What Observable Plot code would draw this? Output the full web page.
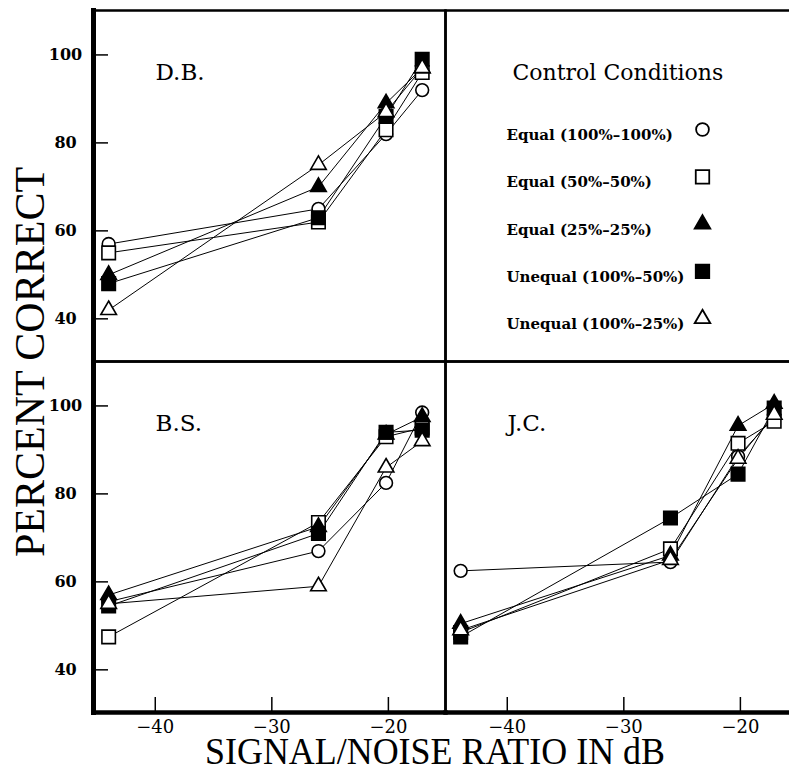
<!DOCTYPE html>
<html>
<head>
<meta charset="utf-8">
<script src="https://cdn.jsdelivr.net/npm/d3@7"></script>
<script src="https://cdn.jsdelivr.net/npm/@observablehq/plot@0.6"></script>
<style>
html, body { margin: 0; padding: 0; overflow: hidden; background: #fff; }
#chart svg { max-width: none !important; display: block; }
</style>
</head>
<body>
<div id="chart"></div>
<script>
// Signal/noise ratios (dB) at which each condition was tested
const snr = [-44, -26, -20.2, -17.1];

// Subjects and where their panel sits
const subjects = ["D.B.", "B.S.", "J.C."];
const subjectCol = ["L", "L", "R"];
const subjectRow = ["T", "B", "B"];

// Control conditions (legend)
const conditions = [
  "Equal (100%–100%)",
  "Equal (50%–50%)",
  "Equal (25%–25%)",
  "Unequal (100%–50%)",
  "Unequal (100%–25%)"
];
const condSymbols = ["circle", "square", "triangle", "square", "triangle"];
const condFills = ["white", "white", "black", "black", "white"];

// Percent correct, one row per condition (same order as conditions), columns follow snr
const pcDB = [
  [57, 65, 82, 92],
  [55, 62, 83, 96],
  [50, 70, 89, 97],
  [48, 63, 86, 99],
  [42, 75, 87, 97]
];
const pcBS = [
  [55.5, 67, 82.5, 98.5],
  [47.5, 73.5, 93, 95],
  [57, 72.5, 93.5, 97.5],
  [54.5, 71, 94, 94.5],
  [55, 59, 86, 92]
];
const pcJC = [
  [62.5, 64.5, 88.5, 97.5],
  [48.5, 67.5, 91.5, 96.5],
  [50.5, 66, 95.5, 100.5],
  [47.5, 74.5, 84.5, 99.5],
  [49, 65, 88, 98]
];

// Axis ticks
const xTicks = [-40, -30, -20];
const yTicks = [40, 60, 80, 100];

// Scale domains
const xDomain = [-45.3, -15.1];
const yDomain = [30.3, 110.1];

const pcBySubject = [pcDB, pcBS, pcJC];
const rows = subjects.flatMap((s, si) =>
  pcBySubject[si].flatMap((vals, ci) =>
    vals.map((v, k) => ({subject: s, col: subjectCol[si], row: subjectRow[si], ci, snr: snr[k], pc: v}))
  )
);
const panels = subjects.map((s, si) => ({subject: s, col: subjectCol[si], row: subjectRow[si]}));

const serif = "'DejaVu Serif', serif";
const radii = {circle: 6.4, square: 7.6, triangle: 5.8};
const W = 797, H = 772, ML = 93, MR = 0, MT = 10, MB = 60;
const facetW = (W - ML - MR) / 2, facetH = (H - MT - MB) / 2, tickLen = 15;
// inward tick length expressed in scale units
const xTickUnits = tickLen * (xDomain[1] - xDomain[0]) / facetW;
const yTickUnits = tickLen * (yDomain[1] - yDomain[0]) / facetH;

// inward tick marks: y ticks on the left column, x ticks on the bottom row
const yTickRows = ["T", "B"].flatMap(r => yTicks.map(t => ({t, col: "L", row: r})));
const xTickRows = ["L", "R"].flatMap(c => xTicks.map(t => ({t, col: c, row: "B"})));

const legendMarks = conditions.flatMap((c, i) => [
  Plot.text([c], {
    fx: () => "R", fy: () => "T", text: d => d,
    frameAnchor: "top-left", dx: 61, dy: 119 + i * 47.3,
    textAnchor: "start", fontFamily: serif, fontWeight: "bold", fontSize: 15, letterSpacing: 0.3, fill: "black"
  }),
  Plot.dot([c], {
    fx: () => "R", fy: () => "T",
    frameAnchor: "top-left", dx: 257, dy: 119 + i * 47.3,
    symbol: condSymbols[i], r: radii[condSymbols[i]],
    fill: condFills[i], stroke: "black", strokeWidth: 1.8
  })
]);

const dotMarks = conditions.map((c, i) =>
  Plot.dot(rows.filter(d => d.ci === i), {
    x: "snr", y: "pc", fx: "col", fy: "row",
    symbol: condSymbols[i], r: radii[condSymbols[i]],
    fill: condFills[i], stroke: "black", strokeWidth: 1.6
  })
);

const chart = Plot.plot({
  width: W,
  height: H,
  marginLeft: ML,
  marginRight: MR,
  marginTop: MT,
  marginBottom: MB,
  style: {background: "white", color: "black"},
  x: {domain: xDomain},
  y: {domain: yDomain},
  fx: {domain: ["L", "R"], padding: 0, axis: null},
  fy: {domain: ["T", "B"], padding: 0, axis: null},
  marks: [
    Plot.frame({stroke: "black", strokeWidth: 2.5}),
    Plot.frame({anchor: "left", facetAnchor: "left", stroke: "black", strokeWidth: 5}),
    Plot.frame({anchor: "bottom", facetAnchor: "bottom", stroke: "black", strokeWidth: 4.5}),
    Plot.ruleY(yTickRows, {
      y: "t", x1: () => xDomain[0], x2: () => xDomain[0] + xTickUnits,
      fx: "col", fy: "row", stroke: "black", strokeWidth: 1.5
    }),
    Plot.ruleX(xTickRows, {
      x: "t", y1: () => yDomain[0], y2: () => yDomain[0] + yTickUnits,
      fx: "col", fy: "row", stroke: "black", strokeWidth: 1.5
    }),
    // tick labels
    Plot.axisY(yTicks, {
      anchor: "left", tickSize: 0, tickPadding: 28, textAnchor: "middle",
      fontFamily: serif, fontWeight: "bold", fontSize: 16, label: null
    }),
    Plot.axisX(xTicks, {
      anchor: "bottom", facetAnchor: "bottom", tickSize: 0, tickPadding: 8,
      fontFamily: serif, fontSize: 18, label: null
    }),
    Plot.line(rows, {x: "snr", y: "pc", z: d => d.subject + d.ci, fx: "col", fy: "row", stroke: "black", strokeWidth: 1}),
    ...dotMarks,
    Plot.text(panels, {
      fx: "col", fy: "row", text: "subject", frameAnchor: "top-left", dx: 62, dy: 53,
      textAnchor: "start", fontFamily: serif, fontSize: 23, fill: "black"
    }),
    Plot.text(["Control Conditions"], {
      fx: () => "R", fy: () => "T", text: d => d, frameAnchor: "top-left", dx: 67, dy: 54,
      textAnchor: "start", fontFamily: serif, fontSize: 22, fill: "black", letterSpacing: 4.6
    }),
    ...legendMarks
  ]
});

document.getElementById("chart").appendChild(chart);

const svg = d3.select(chart);
// Axis titles
svg.append("text")
  .attr("transform", "translate(44,362) rotate(-90)")
  .attr("text-anchor", "middle")
  .attr("font-family", "'Liberation Serif', serif")
  .attr("font-size", 42)
  .attr("fill", "black")
  .text("PERCENT CORRECT");
svg.append("text")
  .attr("x", 435).attr("y", 764)
  .attr("text-anchor", "middle")
  .attr("font-family", "'Liberation Serif', serif")
  .attr("font-size", 38)
  .attr("textLength", 460)
  .attr("lengthAdjust", "spacingAndGlyphs")
  .attr("fill", "black")
  .text("SIGNAL/NOISE RATIO IN dB");
</script>
</body>
</html>
